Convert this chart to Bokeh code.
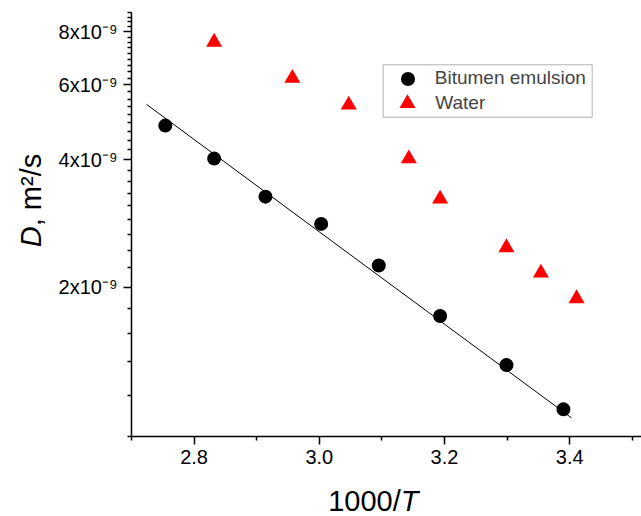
import numpy as np
from bokeh.plotting import figure
from bokeh.models import (FixedTicker, Range1d, Label, Legend, LegendItem,
                          BoxAnnotation)
from bokeh.embed import file_html
from bokeh.resources import INLINE

# Self-diffusion coefficient D (m^2/s) against inverse temperature 1000/T (1/K)
emulsion_x = [2.754, 2.832, 2.914, 3.003, 3.095, 3.193, 3.299, 3.390]
emulsion_D = [4.81e-9, 4.02e-9, 3.27e-9, 2.82e-9, 2.25e-9, 1.71e-9, 1.31e-9, 1.03e-9]

water_x = [2.832, 2.957, 3.047, 3.143, 3.193, 3.299, 3.354, 3.411]
water_D = [7.57e-9, 6.22e-9, 5.38e-9, 4.02e-9, 3.23e-9, 2.48e-9, 2.16e-9, 1.88e-9]

# Arrhenius fit for the emulsion: D = D0 * exp(-Ea / (R T))
fit_D0 = 5.0e-6        # m^2/s
fit_Ea = 20.85e3       # J/mol
R_GAS = 8.314
fit_x_span = [2.724, 3.403]

x_major = [2.8, 3.0, 3.2, 3.4]
x_labels = ["2.8", "3.0", "3.2", "3.4"]
x_minor = [2.7, 2.9, 3.1, 3.3, 3.5]

y_major = [2e-9, 4e-9, 6e-9, 8e-9]
y_labels = ["2x10\u207b\u2079", "4x10\u207b\u2079", "6x10\u207b\u2079", "8x10\u207b\u2079"]
# minor ticks every 2/9 x 10^-9 (eight between neighbouring majors)
y_step = 2e-9 / 9
y_minor = [k * y_step for k in range(4, 41) if k % 9 != 0]

# axis extents and page layout (pixels)
X_START, X_END = 2.7, 3.5147
Y_START, Y_END = 4 * y_step, 40 * y_step
W, H = 641, 516
AXIS_LEFT, AXIS_BOTTOM, AXIS_TOP = 131, 436, 12
px_per_x = (W - AXIS_LEFT) / (X_END - X_START)
px_per_decade = (AXIS_BOTTOM - AXIS_TOP) / np.log10(Y_END / Y_START)

x_range = Range1d(X_START - AXIS_LEFT / px_per_x, X_END)
y_range = Range1d(Y_START * 10 ** (-(H - AXIS_BOTTOM) / px_per_decade),
                  Y_START * 10 ** (AXIS_BOTTOM / px_per_decade))

FONT = "Liberation Sans"

p = figure(width=W, height=H, y_axis_type="log", x_range=x_range, y_range=y_range,
           output_backend="svg", toolbar_location=None,
           min_border_left=0, min_border_right=0,
           min_border_top=0, min_border_bottom=0)
p.outline_line_color = None
p.xgrid.visible = False
p.ygrid.visible = False
p.background_fill_color = "white"
p.border_fill_color = "white"

for ax in (p.xaxis[0], p.yaxis[0]):
    ax.axis_line_width = 1.5
    ax.axis_line_color = "black"
    ax.major_tick_line_width = 1.5
    ax.minor_tick_line_width = 1.5
    ax.major_tick_line_color = "black"
    ax.minor_tick_line_color = "black"
    ax.major_tick_in = 0
    ax.minor_tick_in = 0
    ax.major_tick_out = 8
    ax.minor_tick_out = 4
    ax.major_label_text_font = FONT
    ax.major_label_text_font_size = "20px"
    ax.major_label_text_color = "black"

p.xaxis.ticker = FixedTicker(ticks=x_major, minor_ticks=x_minor)
p.xaxis.major_label_overrides = dict(zip(x_major, x_labels))
p.xaxis.major_label_standoff = 5
p.xaxis.fixed_location = Y_START
p.xaxis.bounds = (X_START - 1e-4, X_END)

p.yaxis.ticker = FixedTicker(ticks=y_major, minor_ticks=y_minor)
p.yaxis.major_label_overrides = dict(zip(y_major, y_labels))
p.yaxis.major_label_standoff = 6
p.yaxis.fixed_location = X_START
p.yaxis.bounds = (Y_START * 0.9999, Y_END * 1.0001)

fx = np.array(fit_x_span)
fy = fit_D0 * np.exp(-fit_Ea / R_GAS * fx / 1000.0)
p.line(fx, fy, line_color="black", line_width=1)

r_em = p.scatter(emulsion_x, emulsion_D, marker="circle", size=14,
                 fill_color="black", line_color=None)
r_wa = p.scatter(water_x, water_D, marker="triangle", size=16,
                 fill_color="#ff0000", line_color=None)

# one legend per entry so each key keeps its own marker size
leg_style = dict(orientation="vertical", padding=0, margin=0,
                 label_text_font=FONT, label_text_font_size="19px",
                 border_line_color=None, background_fill_alpha=0)
p.add_layout(Legend(items=[LegendItem(label="Bitumen emulsion", renderers=[r_em])],
                    location=(389.8, 420.2), glyph_width=35, glyph_height=35,
                    label_height=35, label_standoff=10, **leg_style))
p.add_layout(Legend(items=[LegendItem(label="Water", renderers=[r_wa])],
                    location=(387.3, 393.3), glyph_width=40, glyph_height=40,
                    label_height=40, label_standoff=8, **leg_style))
p.add_layout(BoxAnnotation(left=382.7, right=591.7, top=451.7, bottom=399.3,
                           left_units="screen", right_units="screen",
                           top_units="screen", bottom_units="screen",
                           fill_alpha=0, line_color="black", line_width=1))

# axis titles with italic symbols
lab = dict(x_units="screen", y_units="screen", text_font=FONT,
           text_font_size="29px", text_color="black",
           text_baseline="alphabetic", text_align="left")
p.add_layout(Label(x=30.2, y=269.3, text="D", angle=np.pi / 2,
                   text_font_style="italic", **lab))
p.add_layout(Label(x=30.2, y=290.2, text=", m\u00b2/s", angle=np.pi / 2, **lab))
p.add_layout(Label(x=327.7, y=15.5, text="1000/", **lab))
p.add_layout(Label(x=400.3, y=15.5, text="T", text_font_style="italic", **lab))

open("out.html", "w").write(file_html(p, INLINE))
